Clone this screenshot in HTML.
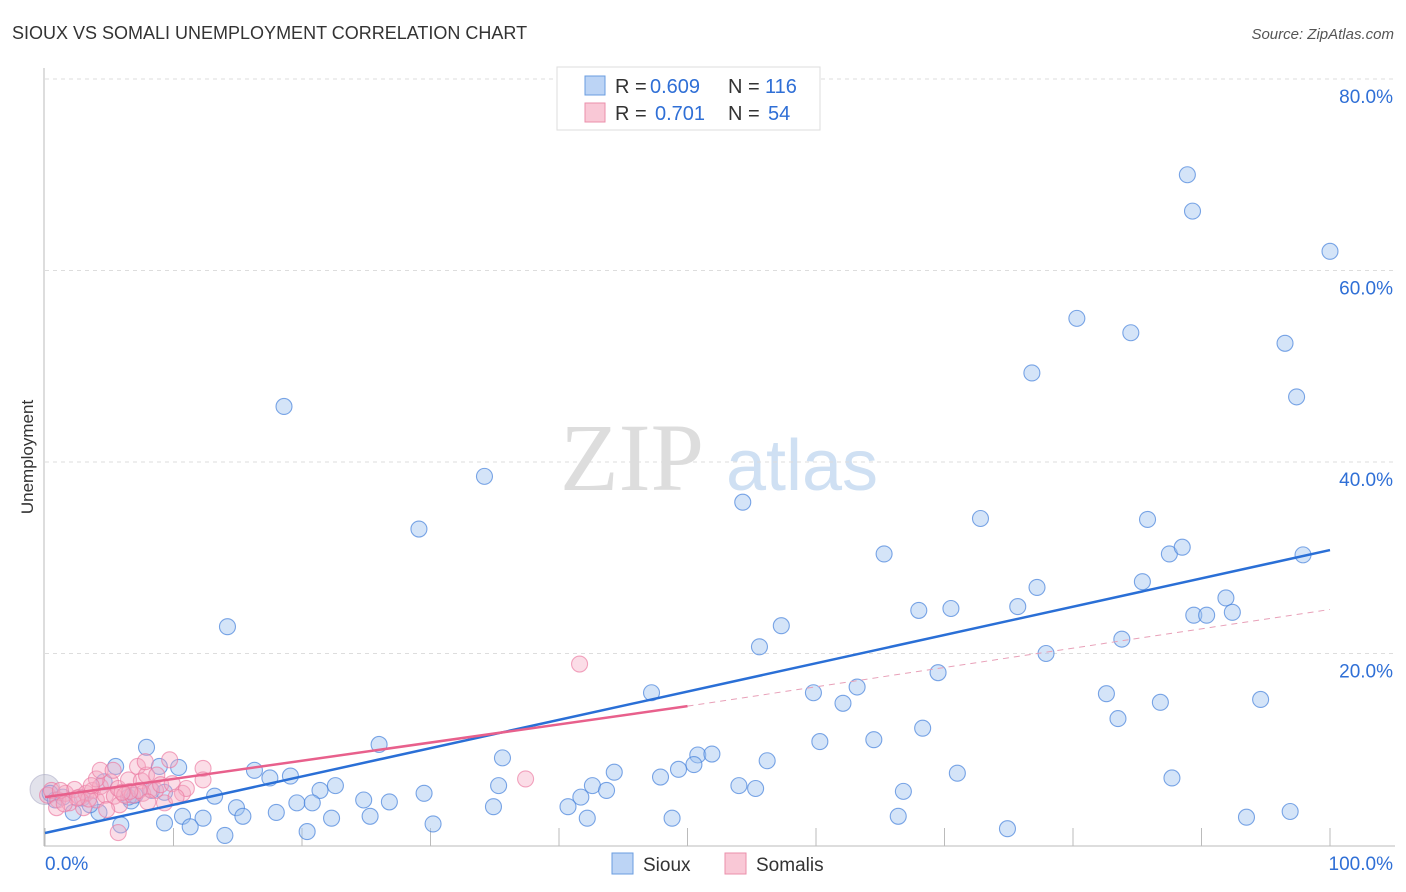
<!DOCTYPE html>
<html><head><meta charset="utf-8"><style>
body{margin:0;background:#fff;font-family:"Liberation Sans",sans-serif;}
svg{display:block}
</style></head><body>
<svg id="chart" width="1406" height="892">
<text x="12" y="39" font-size="18" fill="#333">SIOUX VS SOMALI UNEMPLOYMENT CORRELATION CHART</text>
<text x="1394" y="39" font-size="15" fill="#555" font-style="italic" text-anchor="end">Source: ZipAtlas.com</text>
<text transform="translate(33,457) rotate(-90)" font-size="17" fill="#333" text-anchor="middle">Unemployment</text>
<g>
<text x="632" y="490" font-family="'Liberation Serif',serif" font-size="96" fill="#ddd" text-anchor="middle">ZIP</text>
<text x="802" y="490" font-size="72" fill="#cfe0f3" text-anchor="middle">atlas</text>
</g>
<g id="grid"></g><g id="axes"></g><g id="pts"></g><g id="lines"></g>
<g>
<rect x="557" y="67" width="263" height="63" fill="#fff" stroke="#ddd"/>
<rect x="585" y="76" width="20" height="19" fill="#bcd4f5" stroke="#6a9de0"/>
<rect x="585" y="103" width="20" height="19" fill="#f9c8d6" stroke="#eb8fab"/>
<text x="615" y="93" font-size="20" fill="#333">R =</text>
<text x="650" y="93" font-size="20" fill="#2f6fd6">0.609</text>
<text x="728" y="93" font-size="20" fill="#333">N =</text>
<text x="765" y="93" font-size="20" fill="#2f6fd6">116</text>
<text x="615" y="120" font-size="20" fill="#333">R =</text>
<text x="655" y="120" font-size="20" fill="#2f6fd6">0.701</text>
<text x="728" y="120" font-size="20" fill="#333">N =</text>
<text x="768" y="120" font-size="20" fill="#2f6fd6">54</text>
</g>
<g>
<rect x="612" y="853" width="21" height="21" fill="#bcd4f5" stroke="#6a9de0"/>
<text x="643" y="871" font-size="19" fill="#333">Sioux</text>
<rect x="725" y="853" width="21" height="21" fill="#f9c8d6" stroke="#eb8fab"/>
<text x="756" y="871" font-size="19" fill="#333">Somalis</text>
</g>
</svg>
<script>
const yTicks=[20,40,60,80];
const yTickLabels=["20.0%","40.0%","60.0%","80.0%"];
const xTicks=[0,10,20,30,40,50,60,70,80,90,100];
const siouxX=[88.9,89.3,100,80.3,84.5,76.8,96.5,97.4,18.6,34.2,54.3,29.1,72.8,85.8,65.3,87.5,88.5,97.9,77.2,85.4,91.9,68.0,70.5,75.7,89.4,90.4,92.4,14.2,57.3,55.6,77.9,83.8,69.5,47.2,59.8,63.2,62.1,82.6,86.8,94.6,83.5,68.3,64.5,60.3,26.0,7.9,35.6,50.8,51.9,50.5,56.2,5.5,10.4,8.9,16.3,19.1,17.5,44.3,47.9,49.3,71.0,87.7,22.6,35.3,42.6,21.4,54.0,55.3,43.7,29.5,66.8,13.2,24.8,26.8,41.7,19.6,20.8,14.9,34.9,40.7,96.9,18.0,2.2,4.2,6.7,10.7,12.3,15.4,22.3,25.3,42.2,48.8,66.4,93.5,9.3,11.3,5.9,30.2,20.4,74.9,14.0,0.4,0.8,1.4,2.9,4.6,6.5,7.0,8.3,9.3,3.5];
const siouxY=[70.0,66.2,62.0,55.0,53.5,49.3,52.4,46.8,45.8,38.5,35.8,33.0,34.1,34.0,30.4,30.4,31.1,30.3,26.9,27.5,25.8,24.5,24.7,24.9,24.0,24.0,24.3,22.8,22.9,20.7,20.0,21.5,18.0,15.9,15.9,16.5,14.8,15.8,14.9,15.2,13.2,12.2,11.0,10.8,10.5,10.2,9.1,9.4,9.5,8.4,8.8,8.2,8.1,8.2,7.8,7.2,7.0,7.6,7.1,7.9,7.5,7.0,6.2,6.2,6.2,5.7,6.2,5.9,5.7,5.4,5.6,5.1,4.7,4.5,5.0,4.4,4.4,3.9,4.0,4.0,3.5,3.4,3.4,3.4,4.6,3.0,2.8,3.0,2.8,3.0,2.8,2.8,3.0,2.9,2.3,1.9,2.1,2.2,1.4,1.7,1.0,5.4,4.7,5.0,4.9,6.6,5.0,5.2,5.7,5.5,4.2];
const somaliX=[41.6,37.4,0.2,0.5,1.0,1.6,1.9,2.3,2.7,3.2,3.7,4.0,4.3,4.7,5.1,5.4,5.7,5.8,5.7,6.2,6.5,6.8,7.2,7.5,7.6,7.9,8.2,8.6,8.7,9.0,9.3,9.9,10.7,12.3,12.3,4.0,4.3,7.3,1.2,3.0,5.3,7.8,6.6,4.8,3.4,0.9,9.7,2.5,6.0,11.0,8.0,1.5,3.6,10.2];
const somaliY=[18.9,6.9,5.2,5.7,4.7,5.4,4.4,5.8,5.0,5.4,5.7,4.7,6.1,5.2,6.6,5.1,5.9,4.2,1.3,5.2,6.8,5.2,8.2,6.7,5.4,7.3,5.8,5.7,7.3,6.3,4.4,6.4,5.4,8.0,6.8,6.9,7.8,5.7,5.7,3.9,7.8,8.7,5.6,3.7,4.8,3.9,8.9,4.9,5.5,5.9,4.5,4.3,6.2,5.0];
const blueLine=[1.25,30.8];
const pinkLine=[5.0,14.5,24.6];
const X0=45,X1=1330,Y0=845,Y80=79;
const sx=v=>X0+(X1-X0)*v/100;
const sy=v=>Y0-(Y0-Y80)*v/80;
const NS="http://www.w3.org/2000/svg";
function mk(parent,tag,attrs){const e=document.createElementNS(NS,tag);for(const k in attrs)e.setAttribute(k,attrs[k]);document.getElementById(parent).appendChild(e);return e;}
yTicks.forEach((t,i)=>{
 const g=mk('grid','line',{x1:45,x2:1395,y1:sy(t),y2:sy(t),stroke:'#ddd','stroke-dasharray':'4,4'});
 
 
 const l=mk('grid','text',{x:1393,y:sy(t)+24,'font-size':19,fill:'#2f6fd6','text-anchor':'end'});
 l.textContent=yTickLabels[i];
 
 
});
const ax=mk('axes','line',{x1:44,x2:44,y1:68,y2:846,stroke:'#bbb'});


const bx=mk('axes','line',{x1:44,x2:1395,y1:846,y2:846,stroke:'#bbb'});


xTicks.forEach(t=>{
 const k=mk('axes','line',{x1:sx(t),x2:sx(t),y1:828,y2:846,stroke:'#bbb'});
 
 
});
const xl=mk('axes','text',{x:45,y:870,'font-size':19,fill:'#2f6fd6'});xl.textContent='0.0%';


const xr=mk('axes','text',{x:1393,y:870,'font-size':19,fill:'#2f6fd6','text-anchor':'end'});xr.textContent='100.0%';


const big=mk('pts','circle',{cx:sx(0),cy:sy(5.8),r:15,fill:'rgba(190,190,210,0.45)',stroke:'rgba(160,160,190,0.5)'});


siouxX.forEach((v,i)=>{
 const c=mk('pts','circle',{cx:sx(v),cy:sy(siouxY[i]),r:8,fill:'rgba(160,195,240,0.45)',stroke:'rgba(70,130,220,0.7)','stroke-width':1.1});
 
 
});
somaliX.forEach((v,i)=>{
 const c=mk('pts','circle',{cx:sx(v),cy:sy(somaliY[i]),r:8,fill:'rgba(245,170,195,0.4)',stroke:'rgba(235,120,160,0.65)','stroke-width':1.1});
 
 
});
const bl=mk('lines','line',{x1:sx(0),y1:sy(blueLine[0]),x2:sx(100),y2:sy(blueLine[1]),stroke:'#2a6fd6','stroke-width':2.5});


const pl=mk('lines','line',{x1:sx(0),y1:sy(pinkLine[0]),x2:sx(50),y2:sy(pinkLine[1]),stroke:'#e8608c','stroke-width':2.5});


const pd=mk('lines','line',{x1:sx(50),y1:sy(pinkLine[1]),x2:sx(100),y2:sy(pinkLine[2]),stroke:'#e8a0b8','stroke-width':1,'stroke-dasharray':'6,5'});


</script>
</body></html>
